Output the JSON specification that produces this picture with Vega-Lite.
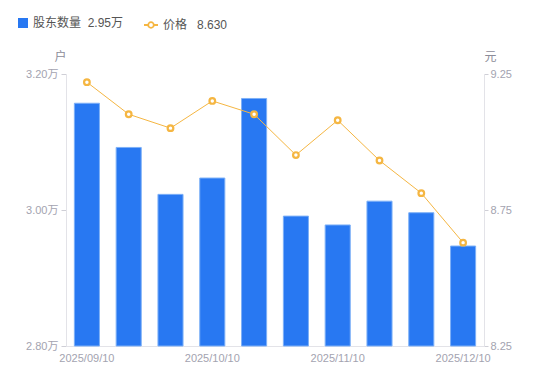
{
  "$schema": "https://vega.github.io/schema/vega-lite/v6.json",
  "width": 418,
  "height": 272,
  "autosize": {"type": "none"},
  "padding": {"left": 66, "top": 74, "right": 66, "bottom": 35},
  "config": {
    "view": {"stroke": null},
    "font": "Liberation Sans, Noto Sans CJK SC",
    "axis": {"grid": false}
  },
  "data": {
    "values": [
      {"date": "2025/09/10", "holders": 3.157, "price": 9.220},
      {"date": "2025/09/19", "holders": 3.092, "price": 9.102},
      {"date": "2025/09/30", "holders": 3.023, "price": 9.051},
      {"date": "2025/10/10", "holders": 3.047, "price": 9.151},
      {"date": "2025/10/20", "holders": 3.164, "price": 9.102},
      {"date": "2025/10/31", "holders": 2.991, "price": 8.952},
      {"date": "2025/11/10", "holders": 2.978, "price": 9.080},
      {"date": "2025/11/20", "holders": 3.013, "price": 8.932},
      {"date": "2025/11/28", "holders": 2.996, "price": 8.812},
      {"date": "2025/12/10", "holders": 2.947, "price": 8.630}
    ]
  },
  "encoding": {
    "x": {
      "field": "date",
      "type": "ordinal",
      "sort": null,
      "scale": {"paddingInner": 0.4, "paddingOuter": 0.2},
      "axis": {
        "values": ["2025/09/10", "2025/10/10", "2025/11/10", "2025/12/10"],
        "labelAngle": 0,
        "title": null,
        "ticks": false,
        "domainColor": "#e3e3e8",
        "labelColor": "#a3a3b0",
        "labelFontSize": 11,
        "labelPadding": 6,
        "labelOverlap": false
      }
    }
  },
  "layer": [
    {
      "mark": {"type": "bar", "stroke": "#7db0f7", "strokeWidth": 1},
      "encoding": {
        "y": {
          "field": "holders",
          "type": "quantitative",
          "scale": {"domain": [2.8, 3.2], "zero": false, "nice": false},
          "axis": {
            "orient": "left",
            "values": [2.8, 3.0, 3.2],
            "labelExpr": "format(datum.value, '.2f') + '万'",
            "title": "户",
            "titleAngle": 0,
            "titleX": -6,
            "titleY": -11,
            "titleAlign": "center",
            "titleBaseline": "bottom",
            "titleColor": "#8c8c99",
            "titleFontWeight": "normal",
            "titleFontSize": 12,
            "domainColor": "#e3e3e8",
            "tickColor": "#cfcfd6",
            "tickSize": 5,
            "labelPadding": 3,
            "labelColor": "#a3a3b0",
            "labelFontSize": 11
          }
        },
        "y2": {"datum": 2.8},
        "fill": {
          "datum": "股东数量",
          "type": "nominal",
          "scale": {"range": ["#2878f2"]},
          "legend": {
            "orient": "none",
            "legendX": -49,
            "legendY": -57,
            "title": null,
            "symbolType": "square",
            "symbolSize": 100,
            "symbolStrokeWidth": 0,
            "labelFontSize": 12,
            "labelColor": "#555555",
            "labelExpr": "datum.label + '\u00a0\u00a02.95万'"
          }
        }
      }
    },
    {
      "mark": {
        "type": "line",
        "strokeWidth": 1,
        "point": {"filled": true, "fill": "white", "stroke": "#f5b642", "strokeWidth": 2.2, "size": 32}
      },
      "encoding": {
        "y": {
          "field": "price",
          "type": "quantitative",
          "scale": {"domain": [8.25, 9.25], "zero": false, "nice": false},
          "axis": {
            "orient": "right",
            "values": [8.25, 8.75, 9.25],
            "format": ".2f",
            "title": "元",
            "titleAngle": 0,
            "titleX": 6,
            "titleY": -11,
            "titleAlign": "center",
            "titleBaseline": "bottom",
            "titleColor": "#8c8c99",
            "titleFontWeight": "normal",
            "titleFontSize": 12,
            "domainColor": "#e3e3e8",
            "tickColor": "#cfcfd6",
            "tickSize": 4,
            "labelPadding": 2,
            "labelColor": "#a3a3b0",
            "labelFontSize": 11
          }
        },
        "stroke": {
          "datum": "价格",
          "type": "nominal",
          "scale": {"range": ["#f5b642"]},
          "legend": {
            "orient": "none",
            "legendX": 77,
            "legendY": -57,
            "title": null,
            "symbolType": "M -1 0 L -0.4 0 M 0.4 0 L 1 0 M 0.4 0 A 0.4 0.4 0 1 0 -0.4 0 A 0.4 0.4 0 1 0 0.4 0",
            "symbolSize": 196,
            "symbolStrokeWidth": 1.8,
            "symbolFillColor": "white",
            "labelFontSize": 12,
            "labelColor": "#555555",
            "labelExpr": "datum.label + '\u00a0\u00a0\u00a08.630'"
          }
        }
      }
    }
  ],
  "resolve": {"scale": {"y": "independent", "fill": "independent", "stroke": "independent"}}
}
